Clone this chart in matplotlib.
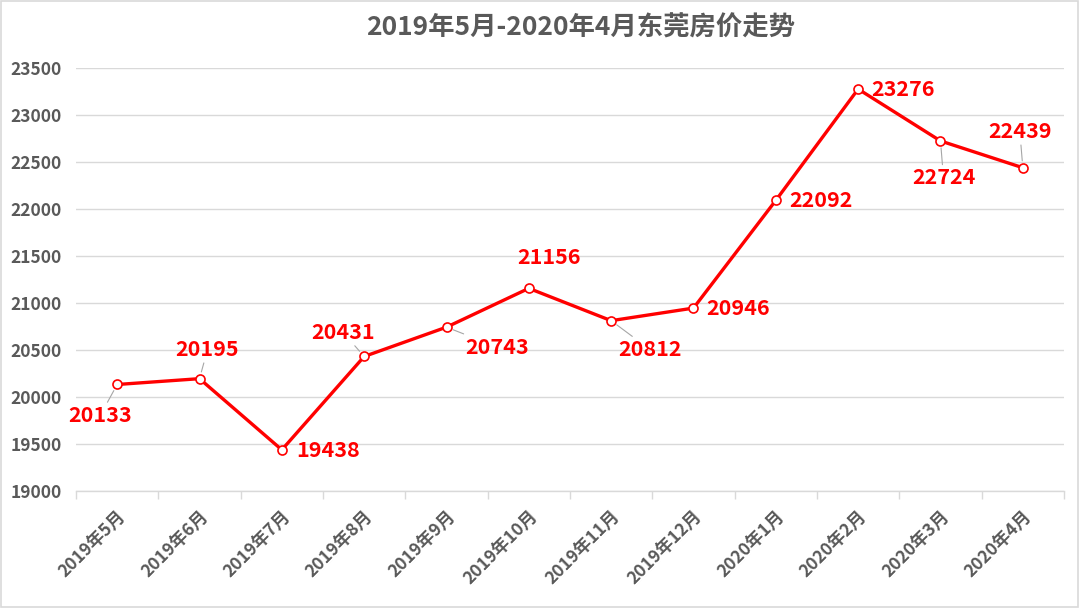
import matplotlib
matplotlib.use("Agg")
import matplotlib.pyplot as plt
from matplotlib.patches import Rectangle

plt.rcParams['font.family'] = ['Noto Sans CJK SC', 'DejaVu Sans']

months = ["2019年5月", "2019年6月", "2019年7月", "2019年8月", "2019年9月", "2019年10月",
          "2019年11月", "2019年12月", "2020年1月", "2020年2月", "2020年3月", "2020年4月"]
prices = [20133, 20195, 19438, 20431, 20743, 21156, 20812, 20946, 22092, 23276, 22724, 22439]
yticks = [19000, 19500, 20000, 20500, 21000, 21500, 22000, 22500, 23000, 23500]
title = "2019年5月-2020年4月东莞房价走势"

# label offsets in pixels (dx, dy) and whether a leader line is drawn
label_offsets = [(-17, -31), (8, 29), (46, -1), (-21, 24), (51, -20), (20, 31),
                 (39, -29), (45, 0), (45, 0), (45, 0), (3, -37), (-3, 36)]
leaders = [True, True, False, True, True, False, True, False, False, False, True, True]

fig = plt.figure(figsize=(10.8, 6.08), dpi=100)
ax = fig.add_axes([76/1080, 1-491/608, (1064-76)/1080, (491-68)/608])

x = list(range(len(months)))
ax.plot(x, prices, color='#ff0000', lw=2.4, marker='o', ms=6.5,
        mfc='white', mec='#ff0000', mew=1.2, zorder=3)

for i, (v, (dx, dy), ld) in enumerate(zip(prices, label_offsets, leaders)):
    kw = {}
    if ld:
        kw['arrowprops'] = dict(arrowstyle='-', color='#a6a6a6', lw=0.8,
                                shrinkA=0, shrinkB=5)
    ax.annotate(str(v), xy=(i, v), xytext=(dx, dy), textcoords='offset pixels',
                ha='center', va='center', color='#ff0000', fontsize=15.5,
                fontweight='bold', zorder=4, **kw)

ax.set_xlim(-0.5, len(months) - 0.5)
ax.set_ylim(19000, 23500)
ax.set_yticks(yticks)
ax.set_yticklabels([str(t) for t in yticks], fontsize=12.5, fontweight='bold', color='#595959')
ax.set_xticks(x)
ax.set_xticklabels(months, rotation=45, ha='right', rotation_mode='anchor',
                   fontsize=12.5, fontweight='bold', color='#595959')
ax.set_xticks([i - 0.5 for i in range(len(months) + 1)], minor=True)
ax.tick_params(axis='x', which='major', length=0, pad=12)
ax.tick_params(axis='x', which='minor', length=6, color='#d9d9d9', width=1)
ax.tick_params(axis='y', length=0, pad=10)

ax.grid(axis='y', color='#d9d9d9', lw=1)
ax.set_axisbelow(True)
for s in ['top', 'right', 'left']:
    ax.spines[s].set_visible(False)
ax.spines['bottom'].set_color('#d9d9d9')
ax.spines['bottom'].set_linewidth(1)

fig.text(581/1080, 1-28/608, title, ha='center', va='center', fontsize=19,
         fontweight='bold', color='#595959')

fig.patches.append(Rectangle((0.001, 0.002), 0.997, 0.996, transform=fig.transFigure,
                             fill=False, edgecolor='#d9d9d9', lw=1.2))

fig.savefig('out.png', dpi=100)
